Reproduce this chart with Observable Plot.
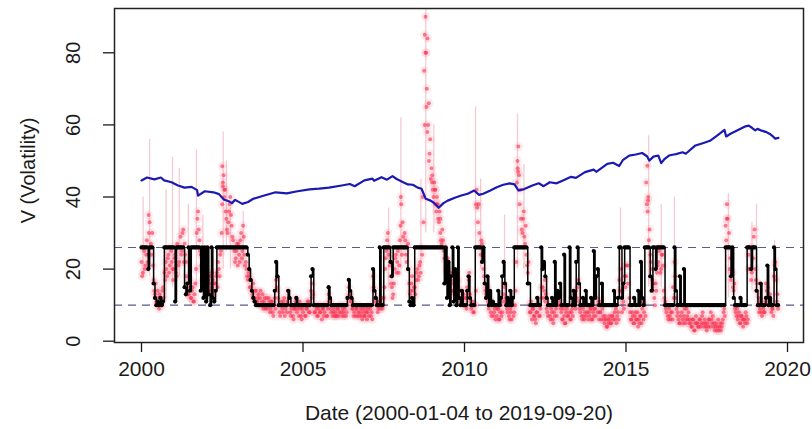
<!DOCTYPE html>
<html><head><meta charset="utf-8">
<script src="https://cdn.jsdelivr.net/npm/d3@7"></script>
<script src="https://cdn.jsdelivr.net/npm/@observablehq/plot@0.6"></script>
<style>body{margin:0;background:#fff} svg{display:block}</style>
</head><body><div id="chart"></div>
<script>
// Tick labels and titles
const xTicks = [2000, 2005, 2010, 2015, 2020];
const yTicks = [0, 20, 40, 60, 80];
const thresholds = [26, 10];
const xTitle = "Date (2000-01-04 to 2019-09-20)";
const yTitle = "V (Volatility)";
const firstYear = 2000;
const samplesPerYear = 24; // semi-monthly readings

// Red series (volatility estimate), semi-monthly readings per year
const r2000 = [22,19,25,21,28,24,33,27,30,17,13,11,14,9,12,10,15,19,22,18,24,21,25,20];
const r2001 = [20,24,18,26,22,29,25,31,27,22,16,13,17,12,15,11,16,30,36,28,24,20,17,19];
const r2002 = [16,19,14,18,15,17,13,16,19,22,18,25,38,46,42,34,30,36,40,32,28,25,23,27];
const r2003 = [27,22,30,25,29,21,20,17,18,15,14,16,12,14,11,13,12,10,13,11,9,12,10,11];
const r2004 = [9,11,7,12,17,14,10,7,11,8,12,9,8,14,10,7,10,6,9,12,9,7,9,6];
const r2005 = [8,10,7,9,11,8,14,16,10,8,9,7,10,8,6,9,8,10,7,13,11,8,7,9];
const r2006 = [8,7,9,8,10,7,8,9,7,10,15,13,11,9,8,7,9,8,7,9,6,8,7,8];
const r2007 = [8,7,9,8,18,14,12,10,9,11,10,9,12,20,25,30,26,18,15,13,20,24,22,19];
const r2008 = [28,38,33,26,28,22,27,16,14,18,12,15,17,20,18,22,26,40,75,90,70,60,52,45];
const r2009 = [46,40,42,36,38,33,30,27,28,23,22,19,20,16,17,14,18,13,19,15,12,14,11,13];
const r2010 = [10,12,15,17,13,9,11,8,10,42,33,30,24,27,20,16,13,15,9,11,7,10,8,6];
const r2011 = [7,9,6,10,8,13,15,11,8,7,9,6,10,8,14,44,54,38,34,30,36,27,24,19];
const r2012 = [10,8,6,9,7,5,8,10,7,12,15,14,11,9,7,10,6,8,5,7,9,12,10,11];
const r2013 = [8,6,7,5,9,7,8,6,9,11,10,14,15,11,8,7,9,6,10,8,6,7,9,6];
const r2014 = [7,9,12,8,6,8,11,7,5,6,4,5,6,5,7,10,6,5,8,17,14,8,11,18];
const r2015 = [18,21,10,8,6,7,5,8,6,4,5,7,9,6,10,44,36,28,24,20,14,12,16,19];
const r2016 = [22,26,20,24,14,11,8,7,9,6,8,15,22,12,7,6,5,10,6,7,5,9,6,5];
const r2017 = [5,4,6,3,7,5,4,6,5,8,4,5,3,4,6,8,5,4,3,5,4,3,5,4];
const r2018 = [6,9,32,38,26,20,17,19,14,9,7,6,8,5,7,4,6,8,5,24,20,17,26,29];
const r2019 = [20,14,10,8,11,7,9,8,16,12,10,13,8,9,18,22,11,9];

// Red series, the in-between readings (a week later than the ones above)
const a2000 = [18,26,20,24,22,30,26,24,21,14,16,10,12,13,10,14,12,17,20,23,19,26,22,17];
const a2001 = [23,19,27,21,26,24,30,22,24,18,13,15,12,14,11,13,20,34,31,25,21,23,20,16];
const a2002 = [13,17,16,14,19,14,16,18,15,20,24,30,43,40,36,31,33,38,35,29,26,22,25,21];
const a2003 = [24,28,23,32,24,22,18,19,15,17,13,12,14,11,12,10,14,11,9,12,10,9,12,8];
const a2004 = [11,8,10,9,15,12,8,10,9,11,7,10,11,12,8,9,7,9,11,8,10,11,7,9];
const a2005 = [10,7,9,11,8,10,12,13,8,10,7,9,8,10,9,7,10,7,9,11,9,10,8,7];
const a2006 = [7,9,7,10,8,9,7,10,8,12,13,11,9,7,10,9,7,10,8,7,9,7,9,6];
const a2007 = [9,10,7,6,15,11,10,8,11,9,12,10,15,23,28,24,21,16,12,16,23,19,25,21];
const a2008 = [32,24,29,30,24,26,20,13,16,14,15,13,19,17,21,19,24,33,60,80,84,66,56,48];
const a2009 = [42,44,38,40,34,36,28,31,25,26,20,23,17,19,14,16,13,15,16,17,14,11,13,10];
const a2010 = [12,9,13,19,11,10,8,10,14,37,38,26,28,22,18,14,15,11,12,8,10,7,9,10];
const a2011 = [9,6,8,7,11,16,12,9,10,6,8,10,7,10,22,48,46,42,31,34,29,32,21,22];
const a2012 = [8,11,9,7,6,8,10,7,9,15,12,17,13,8,10,7,9,6,8,10,7,10,13,9];
const a2013 = [6,9,5,8,7,10,6,8,7,13,9,12,17,9,10,6,7,8,7,10,8,9,6,8];
const a2014 = [9,7,10,11,8,6,9,6,7,4,6,7,5,7,6,8,9,7,6,14,20,10,9,15];
const a2015 = [21,16,12,6,8,5,7,6,8,6,7,5,11,8,7,38,40,31,22,17,16,10,14,21];
const a2016 = [25,19,24,21,12,9,10,6,7,8,6,12,18,9,8,5,7,8,5,9,6,7,8,6];
const a2017 = [4,6,3,5,5,4,6,4,7,5,6,4,5,6,4,6,7,5,4,3,6,4,3,5];
const a2018 = [8,7,28,34,30,23,19,15,16,8,9,7,5,7,6,6,5,7,6,20,26,19,23,31];
const a2019 = [17,16,12,9,8,10,8,11,14,15,11,10,9,7,21,17,13];

// Extra red readings at the peaks
const redPeakDates  = [2000.22,2002.50,2002.52,2002.57,2008.03,2008.77,2008.79,2008.82,2008.85,2008.90,2009.00,2009.10,2009.15,2009.25,2010.36,2011.64,2011.66,2015.66,2015.68,2018.12];
const redPeakValues = [35,48.5,44,42,40,85,80,65,58,50,44,42,38,34,38,50,47,48.7,39,34];

// Pink range spikes: date, low, high
const spikeDates = [2000.05,2000.25,2000.76,2000.96,2001.17,2001.45,2001.70,2001.90,2002.53,2002.63,2002.75,2003.15,2007.65,2008.03,2008.65,2008.80,2009.05,2010.34,2010.50,2011.24,2011.64,2011.84,2014.83,2015.70,2016.09,2016.50,2018.17,2018.90,2019.04,2019.60];
const spikeLows  = [18,18,12,15,18,12,15,14,20,25,20,20,15,20,20,30,30,15,20,10,20,20,10,15,15,12,12,14,12,12];
const spikeHighs = [40,56,42,51,48,38,53,35,58,50,37,36,37,62,45,92,60,65,45,35,63,49,37,57,38,40,41,33,38,28];

// Black regime series (semi-monthly readings)
const b2000 = [26,26,26,26,26,20,26,26,26,16,12,10,11,10,12,10,11,26,26,26,26,26,26,26];
const b2001 = [26,11,26,26,26,26,26,26,15,13,16,26,14,26,26,26,26,26,26,26,14,26,12,26];
const b2002 = [11,26,13,10,26,12,11,14,26,26,26,26,26,26,26,26,26,26,26,26,26,26,26,26];
const b2003 = [26,26,26,26,26,26,26,24,20,17,14,12,11,10,10,10,10,10,10,10,10,10,10,10];
const b2004 = [10,10,10,14,22,18,10,10,10,10,10,10,10,14,12,10,10,10,10,12,10,10,10,10];
const b2005 = [10,10,10,10,10,10,18,20,10,10,10,10,10,10,10,10,10,10,10,15,12,10,10,10];
const b2006 = [10,10,10,10,10,10,10,10,10,12,17,14,12,10,10,10,10,10,10,10,10,10,10,10];
const b2007 = [10,10,10,10,20,14,12,10,10,26,10,10,26,26,26,26,26,22,18,26,26,26,26,26];
const b2008 = [26,26,26,26,26,26,20,11,10,12,10,26,26,26,26,26,26,26,26,26,26,26,26,26];
const b2009 = [26,26,26,26,26,26,26,26,26,16,26,12,22,10,18,26,11,20,10,26,12,10,14,10];
const b2010 = [10,10,14,18,12,10,10,10,26,26,26,26,26,22,26,16,12,18,10,14,10,11,10,10];
const b2011 = [10,14,10,12,18,22,16,10,12,10,14,10,12,26,26,26,26,26,26,26,26,26,26,16];
const b2012 = [16,10,10,10,10,10,12,10,10,26,20,22,18,12,10,10,10,12,10,22,10,14,12,16];
const b2013 = [10,10,24,10,10,10,26,12,10,14,10,22,26,16,10,10,12,10,14,10,10,10,12,10];
const b2014 = [25,12,18,20,10,10,16,10,10,10,10,10,10,10,10,14,10,10,12,26,26,12,16,26];
const b2015 = [26,26,26,10,10,10,12,10,10,14,10,22,12,10,26,26,26,26,18,14,26,26,20,26];
const b2016 = [26,26,26,26,26,10,10,10,10,10,10,10,26,14,10,10,18,10,10,20,10,10,10,10];
const b2017 = [10,10,10,10,10,10,10,10,10,10,10,10,10,10,10,10,10,10,10,10,10,10,10,10];
const b2018 = [10,10,26,26,26,26,18,26,12,10,10,10,10,12,10,10,10,10,26,26,26,20,26,26];
const b2019 = [26,14,10,10,16,10,10,10,12,21,10,12,10,10,26,20,10,10];

// Blue series
const blueDates = [2000.0,2000.17,2000.4,2000.6,2000.7,2000.93,2001.13,2001.33,2001.55,2001.72,2001.75,2001.96,2002.23,2002.4,2002.55,2002.7,2002.8,2002.9,2003.12,2003.3,2003.46,2003.8,2004.15,2004.5,2004.83,2005.2,2005.5,2005.8,2006.2,2006.45,2006.6,2006.9,2007.15,2007.2,2007.43,2007.6,2007.77,2007.9,2008.1,2008.25,2008.4,2008.55,2008.67,2008.8,2008.95,2009.05,2009.2,2009.35,2009.48,2009.7,2009.9,2010.1,2010.3,2010.45,2010.58,2010.8,2011.0,2011.2,2011.4,2011.55,2011.67,2011.85,2012.1,2012.3,2012.45,2012.64,2012.85,2013.05,2013.3,2013.45,2013.73,2014.0,2014.08,2014.42,2014.6,2014.79,2014.9,2015.1,2015.3,2015.5,2015.65,2015.72,2015.85,2016.0,2016.09,2016.2,2016.33,2016.48,2016.55,2016.75,2016.85,2017.15,2017.4,2017.6,2017.83,2018.05,2018.1,2018.25,2018.5,2018.7,2018.8,2018.9,2019.0,2019.07,2019.2,2019.35,2019.45,2019.55,2019.62,2019.72];
const blueValues = [44.6,45.4,44.9,45.4,44.6,44.1,43.2,42.6,42.8,41.9,40.4,41.6,41.3,40.8,39.3,38.8,38.3,39.2,38.1,38.6,39.5,40.4,41.3,41.0,41.6,42.1,42.3,42.6,43.2,43.6,43.0,44.6,45.1,44.5,45.5,44.8,45.8,45.0,44.1,43.5,43.4,42.6,42.3,39.5,39.0,38.4,37.0,38.3,39.0,39.8,40.4,40.9,41.8,40.6,40.9,41.8,42.7,43.4,43.8,43.5,41.8,42.2,43.2,43.8,43.0,44.1,43.8,44.6,45.6,45.3,46.9,47.6,47.0,49.2,49.5,48.6,50.2,51.5,51.8,52.2,51.3,50.1,51.2,51.5,49.4,50.6,51.5,51.8,51.9,52.4,52.0,54.3,55.0,55.6,57.1,58.6,56.8,57.6,58.7,59.6,59.8,59.2,58.5,58.9,58.4,58.0,57.5,56.8,56.2,56.4];

// Build tables
const redYearsList = [r2000,r2001,r2002,r2003,r2004,r2005,r2006,r2007,r2008,r2009,r2010,r2011,r2012,r2013,r2014,r2015,r2016,r2017,r2018,r2019];
const redMidList = [a2000,a2001,a2002,a2003,a2004,a2005,a2006,a2007,a2008,a2009,a2010,a2011,a2012,a2013,a2014,a2015,a2016,a2017,a2018,a2019];
const blackYearsList = [b2000,b2001,b2002,b2003,b2004,b2005,b2006,b2007,b2008,b2009,b2010,b2011,b2012,b2013,b2014,b2015,b2016,b2017,b2018,b2019];
function toRows(list, offset) {
  const out = [];
  list.forEach((arr, k) => arr.forEach((v, i) => out.push({date: firstYear + k + (i + offset) / samplesPerYear, v})));
  return out;
}
const redRows = toRows(redYearsList, 0);
const redMidRows = toRows(redMidList, 0.5);
const blackRows = toRows(blackYearsList, 0);
const redPeakRows = redPeakDates.map((d, i) => ({date: d, v: redPeakValues[i]}));
const spikeRows = spikeDates.map((d, i) => ({date: d, lo: spikeLows[i], hi: spikeHighs[i]}));
const blueRows = blueDates.map((d, i) => ({date: d, v: blueValues[i]}));
const allRed = redRows.concat(redMidRows, redPeakRows);

const font = "'Liberation Sans', Arial, Helvetica, sans-serif";

const chart = Plot.plot({
  width: 812, height: 429,
  marginLeft: 114, marginRight: 9, marginTop: 8, marginBottom: 87,
  style: {fontFamily: font, background: "#fff", color: "#1a1a1a", overflow: "visible"},
  x: {domain: [1999.164, 2020.495]},
  y: {domain: [-0.36, 92.29]},
  marks: [
    Plot.ruleX(spikeRows, {x: "date", y1: "lo", y2: "hi", stroke: "#f3b3c0", strokeWidth: 1.3, strokeOpacity: 0.7}),
    Plot.dot(allRed, {x: "date", y: "v", r: 4.6, fill: "#ff8ca2", fillOpacity: 0.17, stroke: null}),
    Plot.dot(allRed, {x: "date", y: "v", r: 2, fill: "#f52e4e", fillOpacity: 0.6, stroke: null}),
    Plot.line(blueRows, {x: "date", y: "v", stroke: "#1a1ab2", strokeWidth: 2.2}),
    Plot.ruleY(thresholds, {stroke: "#5a5a8c", strokeWidth: 1.1, strokeDasharray: "8,6"}),
    Plot.line(blackRows, {x: "date", y: "v", curve: "step-after", stroke: "#000", strokeWidth: 1.5}),
    Plot.dot(blackRows, {x: "date", y: "v", r: 2.1, fill: "#000", stroke: null}),
    Plot.frame({stroke: "#222", strokeWidth: 1.5}),
    Plot.axisX({ticks: xTicks, tickSize: 10, tickPadding: 9, tickFormat: d => String(d), fontSize: 21, strokeWidth: 1.3, label: null}),
    Plot.axisY({ticks: yTicks, tickSize: 11, tickFormat: () => "", strokeWidth: 1.3, label: null}),
    Plot.text(yTicks, {y: d => d, text: d => String(d), frameAnchor: "left", dx: -35, rotate: -90, textAnchor: "middle", lineAnchor: "bottom", fontSize: 20, fill: "#1a1a1a"}),
    Plot.text([yTitle], {frameAnchor: "left", dx: -80, dy: -5, rotate: -90, textAnchor: "middle", lineAnchor: "bottom", fontSize: 20, fill: "#1a1a1a"}),
    Plot.text([xTitle], {frameAnchor: "bottom", dy: 63, lineAnchor: "top", fontSize: 21, fill: "#1a1a1a"})
  ]
});
document.getElementById("chart").appendChild(chart);
</script>
</body></html>
